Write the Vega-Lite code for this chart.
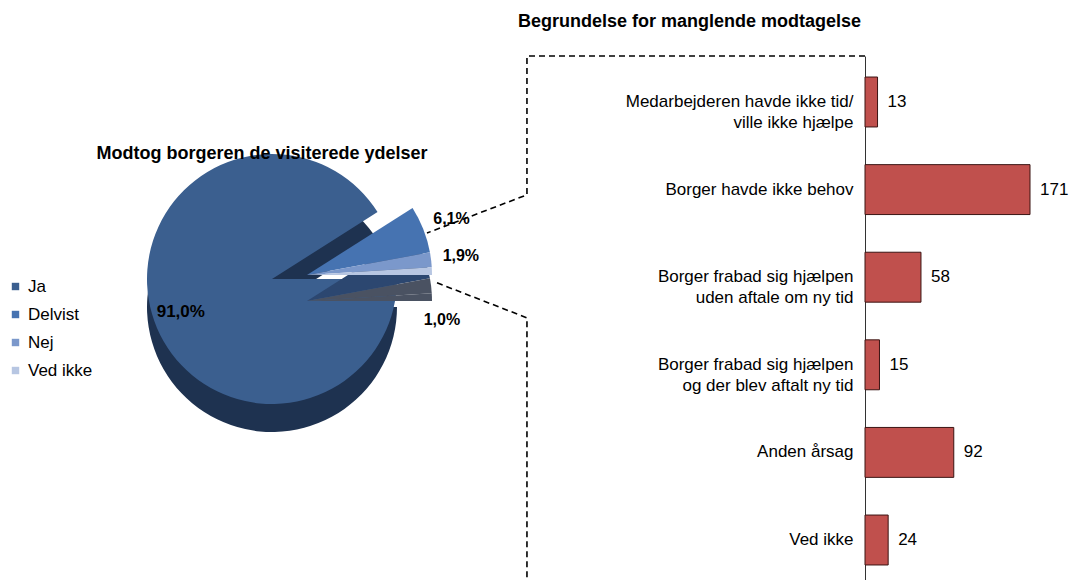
{
  "$schema": "https://vega.github.io/schema/vega-lite/v6.json",
  "background": "white",
  "padding": {"left": 5, "top": 12, "right": 0, "bottom": 0},
  "bounds": "flush",
  "spacing": 326,
  "config": {
    "view": {"stroke": null},
    "font": "Liberation Sans",
    "title": {"fontSize": 18, "fontWeight": "bold", "color": "#000", "offset": 22}
  },
  "hconcat": [
    {
      "width": 534,
      "height": 446,
      "title": {"text": "Modtog borgeren de visiterede ydelser", "dy": 129, "dx": -10},
      "data": {
        "values": [
          {"svar": "Ja", "pct": 91.0, "label": "91,0%"},
          {"svar": "Delvist", "pct": 6.1, "label": "6,1%"},
          {"svar": "Nej", "pct": 1.9, "label": "1,9%"},
          {"svar": "Ved ikke", "pct": 1.0, "label": "1,0%"}
        ]
      },
      "encoding": {
        "theta": {"field": "pct", "type": "quantitative", "stack": true, "scale": {"range": [1.5708, 7.854]}},
        "order": {"field": "pct", "type": "quantitative", "sort": "descending"}
      },
      "layer": [
        {
          "mark": {"type": "arc", "outerRadius": 125, "yOffset": 28},
          "encoding": {
            "detail": {"field": "svar"},
            "color": {"value": "#1E3250"},
            "opacity": {"condition": {"test": "datum.svar === 'Ja'", "value": 1}, "value": 0}
          }
        },
        {
          "mark": {"type": "arc", "outerRadius": 125},
          "encoding": {
            "color": {
              "field": "svar", "type": "nominal",
              "scale": {"domain": ["Ja", "Delvist", "Nej", "Ved ikke"], "range": ["#3B5F8F", "#4673B1", "#7B98CB", "#B7C6E2"]},
              "legend": {"title": null, "orient": "none", "legendX": 2, "legendY": 222, "labelFontSize": 17, "labelColor": "#000", "symbolType": "square", "symbolSize": 55, "symbolStrokeWidth": 0, "rowPadding": 10, "labelOffset": 4}
            },
            "opacity": {"condition": {"test": "datum.svar === 'Ja'", "value": 1}, "value": 0}
          }
        },
        {
          "mark": {"type": "arc", "outerRadius": 125, "xOffset": 35, "yOffset": 22},
          "encoding": {
            "detail": {"field": "svar"},
            "color": {"condition": {"test": "datum.svar === 'Delvist'", "value": "#2C4770"}, "value": "#4A5262"},
            "opacity": {"condition": {"test": "datum.svar !== 'Ja'", "value": 1}, "value": 0}
          }
        },
        {
          "mark": {"type": "arc", "outerRadius": 125, "xOffset": 35, "yOffset": -4},
          "encoding": {
            "color": {"field": "svar", "type": "nominal"},
            "opacity": {"condition": {"test": "datum.svar !== 'Ja'", "value": 1}, "value": 0}
          }
        },
        {
          "mark": {"type": "text", "radius": 95, "dy": 6, "fontSize": 17, "fontWeight": "bold"},
          "encoding": {
            "detail": {"field": "svar"},
            "color": {"value": "#000"},
            "text": {"condition": {"test": "datum.svar === 'Ja'", "field": "label"}, "value": ""}
          }
        },
        {
          "mark": {"type": "text", "radius": 152, "dx": 38, "dy": -4, "fontSize": 16, "fontWeight": "bold"},
          "encoding": {
            "detail": {"field": "svar"},
            "color": {"value": "#000"},
            "text": {"condition": {"test": "datum.svar === 'Delvist' || datum.svar === 'Nej'", "field": "label"}, "value": ""}
          }
        },
        {
          "mark": {"type": "text", "radius": 145, "dx": 25, "dy": 46, "fontSize": 16, "fontWeight": "bold"},
          "encoding": {
            "detail": {"field": "svar"},
            "color": {"value": "#000"},
            "text": {"condition": {"test": "datum.svar === 'Ved ikke'", "field": "label"}, "value": ""}
          }
        }
      ]
    },
    {
      "width": 193,
      "height": 530,
      "title": {"text": "Begrundelse for manglende modtagelse", "dx": -272},
      "layer": [
        {
          "data": {"name": "grunde", "values": [
            {"grund": "Medarbejderen havde ikke tid/|ville ikke hjælpe", "antal": 13},
            {"grund": "Borger havde ikke behov", "antal": 171},
            {"grund": "Borger frabad sig hjælpen|uden aftale om ny tid", "antal": 58},
            {"grund": "Borger frabad sig hjælpen|og der blev aftalt ny tid", "antal": 15},
            {"grund": "Anden årsag", "antal": 92},
            {"grund": "Ved ikke", "antal": 24}
          ]},
          "encoding": {
            "y": {
              "field": "grund", "type": "nominal", "sort": null,
              "scale": {"paddingInner": 0.43, "paddingOuter": 0.24},
              "axis": {"title": null, "ticks": false, "labelPadding": 12, "labelFontSize": 17, "labelColor": "#000", "labelLimit": 320, "labelLineHeight": 21, "domainColor": "#333", "labelExpr": "split(datum.label, '|')"}
            },
            "x": {"field": "antal", "type": "quantitative", "scale": {"domain": [0, 200]}, "axis": null}
          },
          "layer": [
            {"mark": {"type": "bar", "fill": "#C0504D", "stroke": "#3B1413", "strokeWidth": 1}},
            {"mark": {"type": "text", "align": "left", "dx": 10, "fontSize": 17, "color": "#000"}, "encoding": {"text": {"field": "antal", "type": "quantitative"}}}
          ]
        },
        {
          "data": {"values": [
            {"seg": "top", "o": 1, "px": 0, "py": 100},
            {"seg": "top", "o": 2, "px": -350.3, "py": 100},
            {"seg": "top", "o": 3, "px": -350.3, "py": 73.8},
            {"seg": "top", "o": 4, "px": -453.9, "py": 66.6},
            {"seg": "bund", "o": 1, "px": -443.5, "py": 57.2},
            {"seg": "bund", "o": 2, "px": -350.3, "py": 50.6},
            {"seg": "bund", "o": 3, "px": -350.3, "py": 0}
          ]},
          "mark": {"type": "line", "stroke": "#000", "strokeWidth": 1.6, "strokeDash": [6, 4]},
          "encoding": {
            "x": {"field": "px", "type": "quantitative", "scale": {"domain": [0, 200]}, "axis": null},
            "y": {"field": "py", "type": "quantitative", "scale": {"domain": [0, 100]}, "axis": null},
            "detail": {"field": "seg"},
            "order": {"field": "o", "type": "quantitative"}
          }
        }
      ],
      "resolve": {"scale": {"y": "independent"}, "axis": {"y": "independent"}}
    }
  ]
}
